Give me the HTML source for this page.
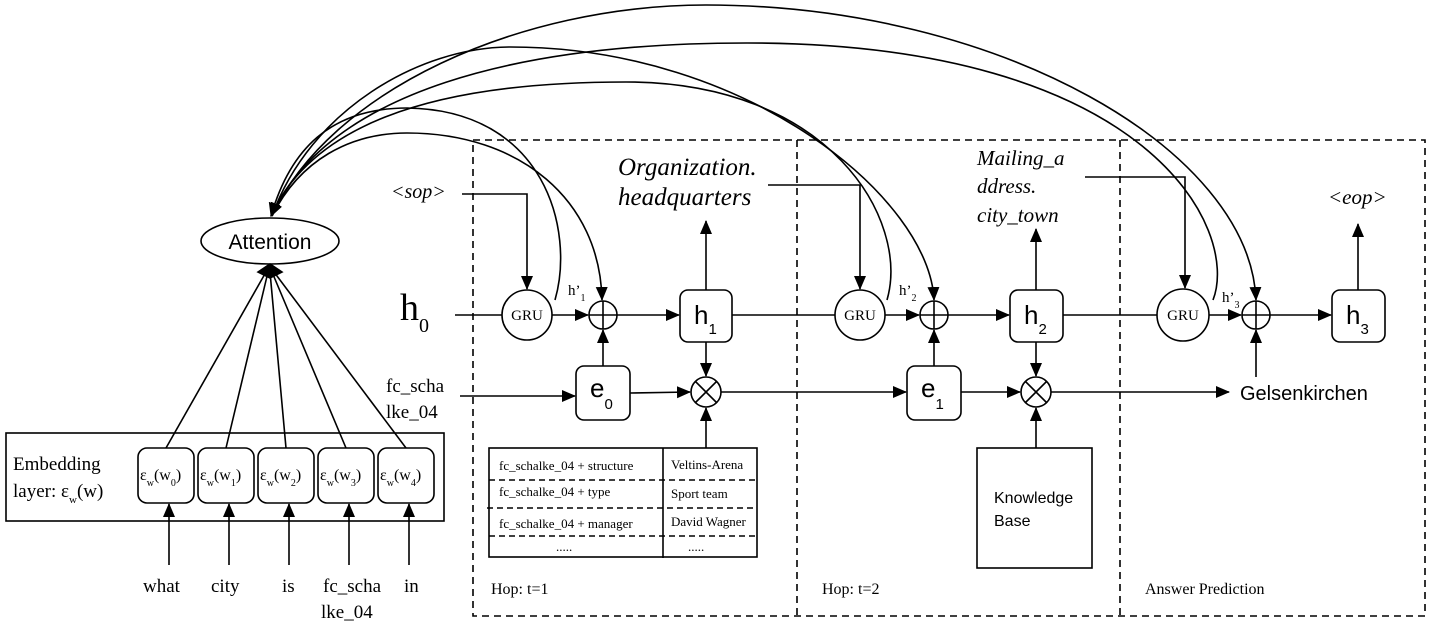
<!DOCTYPE html>
<html><head><meta charset="utf-8"><style>body{margin:0;background:#fff}svg{display:block}</style></head><body>
<svg width="1443" height="632" viewBox="0 0 1443 632" xmlns="http://www.w3.org/2000/svg" font-family="Liberation Serif, serif">
<defs><marker id="b" markerWidth="14" markerHeight="14" refX="13" refY="7" orient="auto" markerUnits="userSpaceOnUse"><path d="M0,1 L14,7 L0,13 z" fill="#000"/></marker></defs>
<g fill="none" stroke="#000" stroke-width="1.6">
<g stroke-dasharray="7,5" stroke-width="1.6">
<rect x="473" y="140" width="952" height="476"/>
<line x1="797" y1="140" x2="797" y2="616"/>
<line x1="1120" y1="140" x2="1120" y2="616"/>
</g>
<rect x="6" y="433" width="438" height="88"/>
<rect x="138" y="448" width="56" height="55" rx="9"/>
<rect x="198" y="448" width="56" height="55" rx="9"/>
<rect x="258" y="448" width="56" height="55" rx="9"/>
<rect x="318" y="448" width="56" height="55" rx="9"/>
<rect x="378" y="448" width="56" height="55" rx="9"/>
<g marker-end="url(#b)">
<line x1="169" y1="565" x2="169" y2="504"/><line x1="229" y1="565" x2="229" y2="504"/><line x1="289" y1="565" x2="289" y2="504"/><line x1="349" y1="565" x2="349" y2="504"/><line x1="409" y1="565" x2="409" y2="504"/>
</g>
<line x1="166" y1="448" x2="266" y2="272"/><line x1="226" y1="448" x2="268" y2="272"/><line x1="286" y1="448" x2="270" y2="272"/><line x1="346" y1="448" x2="272" y2="272"/><line x1="406" y1="448" x2="274" y2="272"/>
<path d="M258,272 L270,264 L282,272 L270,278 z" fill="#000"/>
<ellipse cx="270" cy="241" rx="69" ry="23"/>
<path d="M555,300 C575,230 545,110 407,108 C330,108 290,150 271,216" marker-end="url(#b)"/>
<path d="M272,216 C300,160 350,133 407,133 C520,133 600,200 602,300" marker-end="url(#b)"/>
<path d="M887,300 C910,220 830,82 626,82 C420,82 310,130 271,216" marker-end="url(#b)"/>
<path d="M272,216 C310,110 420,47 510,47 C750,47 930,200 934,300" marker-end="url(#b)"/>
<path d="M1213,300 C1240,230 1150,43 747,43 C520,43 330,90 271,216" marker-end="url(#b)"/>
<path d="M272,216 C330,90 520,5 706,5 C1000,5 1250,150 1256,300" marker-end="url(#b)"/>
<line x1="455" y1="315" x2="502" y2="315"/>
<circle cx="527" cy="315" r="25"/>
<line x1="552" y1="315" x2="588" y2="315" marker-end="url(#b)"/>
<circle cx="603" cy="315" r="14"/><line x1="603" y1="301" x2="603" y2="329"/><line x1="589" y1="315" x2="617" y2="315"/>
<line x1="617" y1="315" x2="679" y2="315" marker-end="url(#b)"/>
<rect x="680" y="290" width="52" height="52" rx="8"/>
<line x1="706" y1="290" x2="706" y2="221" marker-end="url(#b)"/>
<line x1="732" y1="315" x2="835" y2="315"/>
<circle cx="860" cy="315" r="25"/>
<line x1="885" y1="315" x2="919" y2="315" marker-end="url(#b)"/>
<circle cx="934" cy="315" r="14"/><line x1="934" y1="301" x2="934" y2="329"/><line x1="920" y1="315" x2="948" y2="315"/>
<line x1="948" y1="315" x2="1009" y2="315" marker-end="url(#b)"/>
<rect x="1010" y="290" width="53" height="52" rx="8"/>
<line x1="1036" y1="290" x2="1036" y2="229" marker-end="url(#b)"/>
<line x1="1063" y1="315" x2="1157" y2="315"/>
<circle cx="1183" cy="315" r="26"/>
<line x1="1209" y1="315" x2="1241" y2="315" marker-end="url(#b)"/>
<circle cx="1256" cy="315" r="14"/><line x1="1256" y1="301" x2="1256" y2="329"/><line x1="1242" y1="315" x2="1270" y2="315"/>
<line x1="1270" y1="315" x2="1331" y2="315" marker-end="url(#b)"/>
<rect x="1332" y="290" width="53" height="52" rx="8"/>
<line x1="1358" y1="290" x2="1358" y2="224" marker-end="url(#b)"/>
<path d="M462,194 L527,194 L527,289" marker-end="url(#b)"/>
<path d="M768,185 L860,185 L860,289" marker-end="url(#b)"/>
<path d="M1085,177 L1185,177 L1185,288" marker-end="url(#b)"/>
<line x1="460" y1="396" x2="575" y2="396" marker-end="url(#b)"/>
<rect x="576" y="366" width="54" height="54" rx="8"/>
<line x1="603" y1="366" x2="603" y2="330" marker-end="url(#b)"/>
<line x1="630" y1="393" x2="690" y2="392" marker-end="url(#b)"/>
<line x1="706" y1="342" x2="706" y2="376" marker-end="url(#b)"/>
<circle cx="706" cy="392" r="15"/><line x1="695" y1="381" x2="717" y2="403"/><line x1="717" y1="381" x2="695" y2="403"/>
<line x1="721" y1="392" x2="906" y2="392" marker-end="url(#b)"/>
<line x1="706" y1="448" x2="706" y2="408" marker-end="url(#b)"/>
<rect x="907" y="366" width="54" height="54" rx="8"/>
<line x1="934" y1="366" x2="934" y2="330" marker-end="url(#b)"/>
<line x1="961" y1="392" x2="1020" y2="392" marker-end="url(#b)"/>
<line x1="1036" y1="342" x2="1036" y2="376" marker-end="url(#b)"/>
<circle cx="1036" cy="392" r="15"/><line x1="1025" y1="381" x2="1047" y2="403"/><line x1="1047" y1="381" x2="1025" y2="403"/>
<line x1="1051" y1="392" x2="1229" y2="392" marker-end="url(#b)"/>
<line x1="1036" y1="448" x2="1036" y2="408" marker-end="url(#b)"/>
<line x1="1256" y1="377" x2="1256" y2="330" marker-end="url(#b)"/>
<rect x="489" y="448" width="268" height="109"/>
<line x1="663" y1="448" x2="663" y2="558"/>
<g stroke-dasharray="6,4"><line x1="489" y1="480" x2="757" y2="480"/><line x1="487" y1="508" x2="757" y2="508"/><line x1="489" y1="536" x2="757" y2="536"/></g>
<rect x="977" y="448" width="115" height="120"/>
</g>
<g fill="#000">
<text x="270" y="249" font-family="Liberation Sans, sans-serif" font-size="21" text-anchor="middle">Attention</text>
<text x="13" y="470" font-size="19">Embedding</text>
<text x="13" y="497" font-size="19">layer: ε<tspan font-size="11" dy="6">w</tspan><tspan dy="-6">(w)</tspan></text>
<g font-size="16">
<text x="140" y="480">ε<tspan font-size="10" dy="6">w</tspan><tspan dy="-6">(w</tspan><tspan font-size="10" dy="6">0</tspan><tspan dy="-6">)</tspan></text>
<text x="200" y="480">ε<tspan font-size="10" dy="6">w</tspan><tspan dy="-6">(w</tspan><tspan font-size="10" dy="6">1</tspan><tspan dy="-6">)</tspan></text>
<text x="260" y="480">ε<tspan font-size="10" dy="6">w</tspan><tspan dy="-6">(w</tspan><tspan font-size="10" dy="6">2</tspan><tspan dy="-6">)</tspan></text>
<text x="320" y="480">ε<tspan font-size="10" dy="6">w</tspan><tspan dy="-6">(w</tspan><tspan font-size="10" dy="6">3</tspan><tspan dy="-6">)</tspan></text>
<text x="380" y="480">ε<tspan font-size="10" dy="6">w</tspan><tspan dy="-6">(w</tspan><tspan font-size="10" dy="6">4</tspan><tspan dy="-6">)</tspan></text>
</g>
<g font-size="19">
<text x="143" y="592">what</text><text x="211" y="592">city</text><text x="282" y="592">is</text>
<text x="323" y="592">fc_scha</text><text x="321" y="618">lke_04</text><text x="404" y="592">in</text>
<text x="386" y="392">fc_scha</text><text x="386" y="418">lke_04</text>
</g>
<text x="400" y="320" font-size="38">h<tspan font-size="20" dy="12">0</tspan></text>
<text x="391" y="198" font-size="20" font-style="italic">&lt;sop&gt;</text>
<text x="618" y="175" font-size="25" font-style="italic">Organization.</text>
<text x="618" y="205" font-size="25" font-style="italic">headquarters</text>
<text x="977" y="165" font-size="21" font-style="italic">Mailing_a</text>
<text x="977" y="193" font-size="21" font-style="italic">ddress.</text>
<text x="977" y="222" font-size="21" font-style="italic">city_town</text>
<text x="1328" y="204" font-size="21" font-style="italic">&lt;eop&gt;</text>
<g font-size="15" text-anchor="middle"><text x="527" y="320">GRU</text><text x="860" y="320">GRU</text><text x="1183" y="320">GRU</text></g>
<g font-size="15"><text x="568" y="295">h’<tspan font-size="10" dy="6">1</tspan></text><text x="899" y="295">h’<tspan font-size="10" dy="6">2</tspan></text><text x="1222" y="302">h’<tspan font-size="10" dy="6">3</tspan></text></g>
<g font-family="Liberation Sans, sans-serif" font-size="26">
<text x="694" y="324">h<tspan font-size="15" dy="10">1</tspan></text>
<text x="1024" y="324">h<tspan font-size="15" dy="10">2</tspan></text>
<text x="1346" y="324">h<tspan font-size="15" dy="10">3</tspan></text>
<text x="590" y="397">e<tspan font-size="15" dy="12">0</tspan></text>
<text x="921" y="397">e<tspan font-size="15" dy="12">1</tspan></text>
</g>
<text x="1240" y="400" font-family="Liberation Sans, sans-serif" font-size="20">Gelsenkirchen</text>
<text x="994" y="503" font-family="Liberation Sans, sans-serif" font-size="16">Knowledge</text>
<text x="994" y="526" font-family="Liberation Sans, sans-serif" font-size="16">Base</text>
<g font-size="13"><text x="499" y="470">fc_schalke_04 + structure</text><text x="499" y="496">fc_schalke_04 + type</text><text x="499" y="528">fc_schalke_04 + manager</text><text x="556" y="551">.....</text>
<text x="671" y="469">Veltins-Arena</text><text x="671" y="498">Sport team</text><text x="671" y="526">David Wagner</text><text x="688" y="551">.....</text></g>
<g font-size="16"><text x="491" y="594">Hop: t=1</text><text x="822" y="594">Hop: t=2</text><text x="1145" y="594">Answer Prediction</text></g>
</g>
</svg>
</body></html>
